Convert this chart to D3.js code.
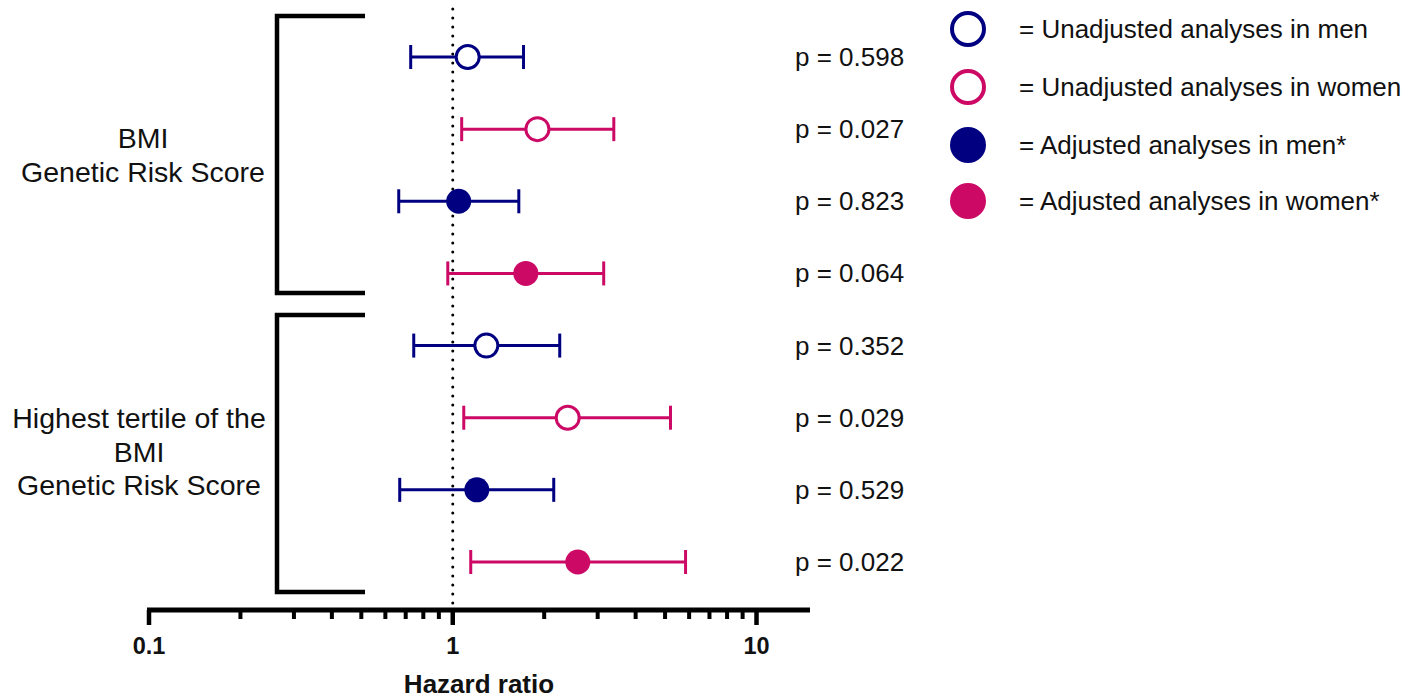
<!DOCTYPE html>
<html><head><meta charset="utf-8">
<script src="https://cdn.jsdelivr.net/npm/d3@7"></script>
<style>body{margin:0;background:#fff}svg{display:block}text{font-family:"Liberation Sans",Arial,sans-serif}</style>
</head><body><svg id="c" width="1418" height="698"></svg>
<script>
const rowIds = [1,2,3,4,5,6,7,8];
const hr    = [1.12, 1.90, 1.046, 1.74, 1.29, 2.39, 1.20, 2.58];
const ciLow = [0.727, 1.07, 0.664, 0.963, 0.744, 1.087, 0.669, 1.146];
const ciHigh= [1.71, 3.39, 1.65, 3.14, 2.25, 5.21, 2.15, 5.84];
const pLabels = ["p = 0.598","p = 0.027","p = 0.823","p = 0.064","p = 0.352","p = 0.029","p = 0.529","p = 0.022"];
const sexes = ["men","women","men","women","men","women","men","women"];
const adjusted = [false,false,true,true,false,false,true,true];
const groupLabels = [["BMI","Genetic Risk Score"],["Highest tertile of the","BMI","Genetic Risk Score"]];
const majorTicks = [0.1, 1, 10];
const legendLabels = ["= Unadjusted analyses in men","= Unadjusted analyses in women","= Adjusted analyses in men*","= Adjusted analyses in women*"];
const legendSex = ["men","women","men","women"];
const legendAdj = [false,false,true,true];

const color = {men:"#000080", women:"#cc0a66"};
const svg = d3.select("#c");
const x = d3.scaleLog().domain([0.1, 15]).range([149, 810]);
const y = d3.scaleLinear().domain([1, 8]).range([57, 562]);
const axisY = 610;

// brackets
const brackets = [[16,293],[315,592]];
brackets.forEach(b=>{
  svg.append("path").attr("d",`M365,${b[0]}H277V${b[1]}H365`)
    .attr("fill","none").attr("stroke","#000").attr("stroke-width",4.5);
});
// group labels
const labelFirstBaseline = [148, 428];
const labelX = [143, 139];
groupLabels.forEach((g,i)=>{
  const t = svg.append("text").attr("text-anchor","middle").attr("font-size",28.5).attr("fill","#111");
  g.forEach((line,j)=>{
    t.append("tspan").attr("x",labelX[i]).attr("y", labelFirstBaseline[i] + j*33.7).text(line);
  });
});

// reference line
svg.append("line").attr("x1",x(1)).attr("x2",x(1)).attr("y1",9).attr("y2",axisY-3)
  .attr("stroke","#000").attr("stroke-width",3).attr("stroke-linecap","round").attr("stroke-dasharray","0,9");

// axis
const minor = [];
for (let d of [0.1,1]) for (let k=2;k<=9;k++) minor.push(+(d*k).toFixed(2));
const ax = svg.append("g");
ax.append("line").attr("x1",x(0.1)-2).attr("x2",x(15)).attr("y1",axisY).attr("y2",axisY).attr("stroke","#000").attr("stroke-width",5);
ax.selectAll(".mn").data(minor).join("line").attr("x1",d=>x(d)).attr("x2",d=>x(d)).attr("y1",axisY).attr("y2",axisY+9).attr("stroke","#000").attr("stroke-width",4);
ax.selectAll(".mj").data(majorTicks).join("line").attr("x1",d=>x(d)).attr("x2",d=>x(d)).attr("y1",axisY).attr("y2",axisY+15).attr("stroke","#000").attr("stroke-width",4.5);
ax.selectAll(".tl").data(majorTicks).join("text").attr("x",d=>x(d)).attr("y",654).attr("text-anchor","middle")
  .attr("font-size",23.5).attr("font-weight","bold").attr("fill","#111").text(d=>String(d));
svg.append("text").attr("x",479).attr("y",693).attr("text-anchor","middle").attr("font-size",26).attr("font-weight","bold").attr("fill","#111").text("Hazard ratio");

// error bars
const rows = rowIds.map((r,i)=>({r, hr:hr[i], lo:ciLow[i], hi:ciHigh[i], p:pLabels[i], sex:sexes[i], adj:adjusted[i]}));
const g = svg.append("g");
rows.forEach(d=>{
  const c = color[d.sex], yy = y(d.r);
  g.append("line").attr("x1",x(d.lo)).attr("x2",x(d.hi)).attr("y1",yy).attr("y2",yy).attr("stroke",c).attr("stroke-width",3);
  [d.lo,d.hi].forEach(v=>g.append("line").attr("x1",x(v)).attr("x2",x(v)).attr("y1",yy-12).attr("y2",yy+12).attr("stroke",c).attr("stroke-width",3));
  if (d.adj) g.append("circle").attr("cx",x(d.hr)).attr("cy",yy).attr("r",12.5).attr("fill",c);
  else g.append("circle").attr("cx",x(d.hr)).attr("cy",yy).attr("r",11.5).attr("fill","#fff").attr("stroke",c).attr("stroke-width",3);
  g.append("text").attr("x",795).attr("y",yy+9).attr("font-size",26).attr("fill","#111").text(d.p);
});

// legend
const legY = [29, 87, 145, 201];
legendLabels.forEach((t,i)=>{
  const c = color[legendSex[i]];
  if (legendAdj[i]) svg.append("circle").attr("cx",968).attr("cy",legY[i]).attr("r",18).attr("fill",c);
  else svg.append("circle").attr("cx",968).attr("cy",legY[i]).attr("r",16).attr("fill","#fff").attr("stroke",c).attr("stroke-width",4);
  svg.append("text").attr("x",1019).attr("y",legY[i]+9).attr("font-size",26).attr("fill","#111").text(t);
});
</script></body></html>
